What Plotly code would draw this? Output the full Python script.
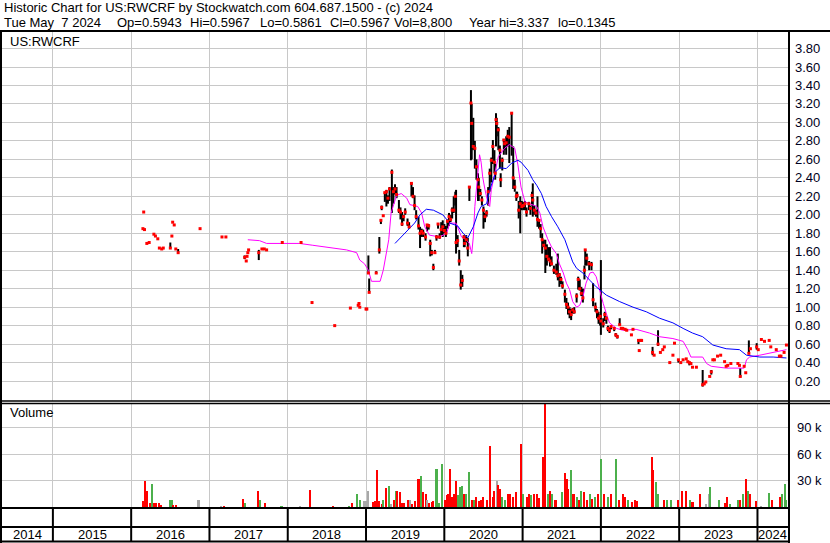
import plotly.graph_objects as go

W, H = 830, 543

# ---------------- price bars (decimal year, high, low, close) ----------------
bar_x = [
    2016.15, 2016.16, 2016.17, 2016.20, 2016.23, 2016.29, 2016.31, 2016.34, 2016.36, 2016.39,
    2016.41, 2016.50, 2016.52, 2016.53, 2016.55, 2016.57, 2016.60, 2016.88,
    2017.16, 2017.21, 2017.45, 2017.47, 2017.48, 2017.49, 2017.50, 2017.63, 2017.67, 2017.70,
    2017.73, 2017.93, 2018.17, 2018.31, 2018.60, 2018.80, 2018.90, 2018.91, 2018.92, 2019.00, 2019.01,
    # 2019
    2019.03, 2019.04, 2019.13, 2019.17, 2019.19, 2019.20, 2019.22, 2019.24, 2019.26, 2019.28,
    2019.30, 2019.33, 2019.35, 2019.37, 2019.39, 2019.42, 2019.44, 2019.46, 2019.48, 2019.50,
    2019.53, 2019.55, 2019.58, 2019.60, 2019.62, 2019.64, 2019.67, 2019.69, 2019.71, 2019.73,
    2019.76, 2019.78, 2019.80, 2019.82, 2019.84, 2019.86, 2019.88, 2019.90, 2019.92, 2019.94,
    2019.96, 2019.98,
    # 2020
    2020.00, 2020.02, 2020.04, 2020.06, 2020.08, 2020.10, 2020.12, 2020.14, 2020.15, 2020.17,
    2020.19, 2020.21, 2020.23, 2020.25, 2020.26, 2020.28, 2020.30, 2020.32, 2020.34, 2020.35,
    2020.37, 2020.39, 2020.41, 2020.43, 2020.44, 2020.46, 2020.48, 2020.50, 2020.52, 2020.54,
    2020.56, 2020.58, 2020.60, 2020.62, 2020.64, 2020.65, 2020.66, 2020.67, 2020.69, 2020.71,
    2020.72, 2020.74, 2020.76, 2020.77, 2020.79, 2020.81, 2020.83, 2020.86, 2020.88, 2020.90,
    2020.92, 2020.93, 2020.95, 2020.97, 2020.99,
    # 2021
    2021.01, 2021.03, 2021.05, 2021.08, 2021.10, 2021.12, 2021.13, 2021.15, 2021.17, 2021.19,
    2021.21, 2021.23, 2021.25, 2021.27, 2021.29, 2021.31, 2021.33, 2021.35, 2021.37, 2021.40,
    2021.43, 2021.45, 2021.47, 2021.49, 2021.51, 2021.54, 2021.56, 2021.58, 2021.60, 2021.62,
    2021.64, 2021.66, 2021.69, 2021.71, 2021.73, 2021.75, 2021.77, 2021.79, 2021.80, 2021.82,
    2021.85, 2021.88, 2021.90, 2021.93, 2021.95, 2021.97, 2021.99,
    # 2022
    2022.00, 2022.03, 2022.05, 2022.07, 2022.09, 2022.11, 2022.13, 2022.17, 2022.19, 2022.21,
    2022.24, 2022.26, 2022.28, 2022.31, 2022.33, 2022.39, 2022.41, 2022.48, 2022.49, 2022.51,
    2022.52, 2022.66, 2022.68, 2022.73, 2022.76, 2022.79, 2022.81, 2022.88, 2022.92, 2022.94,
    2022.99,
    # 2023 - 2024
    2023.02, 2023.05, 2023.09, 2023.11, 2023.13, 2023.15, 2023.17, 2023.22, 2023.30, 2023.32,
    2023.34, 2023.39, 2023.41, 2023.43, 2023.45, 2023.49, 2023.53, 2023.58, 2023.60, 2023.62,
    2023.66, 2023.75, 2023.77, 2023.78, 2023.83, 2023.85, 2023.89, 2023.91, 2023.99, 2024.01,
    2024.05, 2024.09, 2024.15, 2024.17, 2024.24, 2024.28, 2024.30, 2024.34, 2024.37,
]
bar_hi = [
    1.85, 2.03, 1.84, 1.69, 1.70, 1.79, 1.77, 1.74, 1.64, 1.63,
    1.64, 1.70, 1.77, 1.92, 1.89, 1.63, 1.63, 1.85,
    1.76, 1.76, 1.56, 1.50, 1.55, 1.59, 1.62, 1.62, 1.63, 1.63,
    1.62, 1.70, 1.70, 1.05, 0.80, 0.99, 1.02, 1.04, 1.00, 0.98, 0.98,
    1.56, 1.31, 1.39, 1.76, 1.94, 2.10, 1.99, 2.24, 2.27, 2.21,
    2.30, 2.49, 2.30, 2.33, 2.30, 2.16, 2.08, 2.03, 2.00, 2.07,
    1.96, 1.92, 2.34, 2.30, 2.21, 2.05, 1.98, 1.87, 1.85, 1.84,
    1.80, 1.90, 1.90, 1.73, 1.62, 1.47, 1.62, 1.78, 1.91, 1.80,
    1.92, 1.94,
    1.90, 1.88, 1.95, 2.02, 2.00, 2.08, 2.20, 2.25, 2.27, 1.78,
    1.62, 1.40, 1.35, 1.78, 1.76, 1.78, 1.75, 2.30, 3.35, 3.20,
    3.05, 2.80, 2.60, 2.45, 2.40, 2.28, 2.20, 2.09, 2.02, 2.05,
    2.30, 2.50, 2.62, 2.81, 2.70, 2.55, 3.10, 3.05, 2.95, 2.75,
    2.45, 2.62, 2.82, 2.80, 2.85, 2.92, 2.95, 3.10, 2.74, 2.38,
    2.25, 2.25, 2.15, 2.20, 2.15,
    2.14, 2.15, 2.08, 2.14, 2.10, 2.25, 2.34, 2.10, 2.05, 2.20,
    1.95, 1.90, 1.80, 1.73, 1.73, 1.68, 1.65, 1.65, 1.55, 1.45,
    1.47, 1.58, 1.37, 1.33, 1.28, 1.19, 1.10, 1.05, 1.00, 0.98,
    0.99, 1.00, 1.15, 1.33, 1.30, 1.22, 1.20, 1.45, 1.62, 1.58,
    1.50, 1.49, 1.26, 1.05, 0.98, 0.95, 0.92,
    1.51, 0.88, 0.95, 0.90, 0.80, 0.78, 0.80, 0.78, 0.72, 0.70,
    0.88, 0.77, 0.77, 0.76, 0.75, 0.70, 0.76, 0.64, 0.53, 0.64,
    0.64, 0.57, 0.48, 0.75, 0.51, 0.54, 0.57, 0.40, 0.48, 0.61,
    0.43,
    0.40, 0.43, 0.44, 0.41, 0.40, 0.39, 0.35, 0.35, 0.32, 0.17,
    0.19, 0.25, 0.32, 0.43, 0.43, 0.47, 0.48, 0.41, 0.36, 0.37,
    0.39, 0.39, 0.37, 0.34, 0.36, 0.29, 0.64, 0.55, 0.61, 0.54,
    0.65, 0.63, 0.64, 0.57, 0.54, 0.47, 0.47, 0.51, 0.60,
]
bar_lo = [
    1.85, 2.03, 1.84, 1.69, 1.70, 1.79, 1.77, 1.74, 1.64, 1.63,
    1.64, 1.64, 1.77, 1.92, 1.89, 1.63, 1.59, 1.85,
    1.76, 1.76, 1.52, 1.50, 1.55, 1.59, 1.62, 1.51, 1.63, 1.63,
    1.62, 1.70, 1.70, 1.05, 0.80, 0.99, 1.02, 1.04, 1.00, 0.98, 0.98,
    1.36, 1.16, 1.37, 1.58, 1.90, 2.05, 1.99, 2.14, 2.09, 2.12,
    2.15, 2.02, 2.12, 2.22, 2.18, 2.02, 1.95, 1.88, 1.93, 2.00,
    1.88, 1.85, 2.20, 2.18, 2.05, 1.95, 1.84, 1.64, 1.76, 1.76,
    1.72, 1.82, 1.84, 1.55, 1.56, 1.40, 1.58, 1.72, 1.85, 1.74,
    1.78, 1.76,
    1.80, 1.76, 1.85, 1.88, 1.92, 1.96, 2.02, 2.10, 1.58, 1.65,
    1.45, 1.19, 1.22, 1.65, 1.65, 1.70, 1.55, 2.15, 2.59, 2.60,
    2.70, 2.50, 2.38, 2.15, 2.15, 2.20, 2.10, 1.85, 1.92, 1.98,
    2.10, 2.25, 2.35, 2.55, 2.45, 2.38, 2.74, 2.85, 2.70, 2.50,
    2.30, 2.48, 2.65, 2.70, 2.65, 2.74, 2.56, 2.64, 2.28, 2.25,
    2.15, 2.18, 1.96, 1.80, 2.05,
    2.05, 2.05, 1.98, 2.05, 2.00, 2.10, 1.98, 2.00, 1.98, 1.87,
    1.85, 1.75, 1.58, 1.65, 1.37, 1.45, 1.50, 1.44, 1.45, 1.36,
    1.35, 1.29, 1.22, 1.25, 1.20, 1.05, 0.98, 0.92, 0.88, 0.86,
    0.93, 0.93, 1.05, 1.19, 1.18, 1.12, 1.05, 1.30, 1.45, 1.45,
    1.40, 1.40, 1.01, 0.95, 0.88, 0.82, 0.80,
    0.70, 0.78, 0.85, 0.82, 0.74, 0.72, 0.76, 0.74, 0.68, 0.66,
    0.81, 0.77, 0.77, 0.76, 0.75, 0.70, 0.76, 0.60, 0.53, 0.64,
    0.64, 0.48, 0.48, 0.58, 0.51, 0.54, 0.57, 0.40, 0.48, 0.61,
    0.40,
    0.40, 0.43, 0.44, 0.41, 0.37, 0.39, 0.35, 0.35, 0.14, 0.17,
    0.19, 0.25, 0.27, 0.43, 0.43, 0.47, 0.48, 0.41, 0.36, 0.37,
    0.39, 0.39, 0.37, 0.24, 0.36, 0.29, 0.50, 0.55, 0.54, 0.54,
    0.65, 0.63, 0.64, 0.57, 0.54, 0.47, 0.47, 0.51, 0.59,
]
bar_cl = [
    1.85, 2.03, 1.84, 1.69, 1.70, 1.79, 1.77, 1.74, 1.64, 1.63,
    1.64, 1.64, 1.77, 1.92, 1.89, 1.63, 1.59, 1.85,
    1.76, 1.76, 1.54, 1.50, 1.55, 1.59, 1.62, 1.59, 1.63, 1.63,
    1.62, 1.70, 1.70, 1.05, 0.80, 0.99, 1.02, 1.04, 1.00, 0.98, 0.98,
    1.37, 1.16, 1.37, 1.62, 1.94, 2.08, 1.99, 2.24, 2.25, 2.18,
    2.28, 2.46, 2.25, 2.28, 2.22, 2.05, 2.03, 1.90, 1.98, 2.03,
    1.91, 1.87, 2.34, 2.20, 2.10, 1.98, 1.88, 1.80, 1.82, 1.80,
    1.76, 1.89, 1.88, 1.69, 1.59, 1.43, 1.59, 1.76, 1.90, 1.76,
    1.84, 1.87,
    1.83, 1.80, 1.93, 1.98, 1.95, 2.05, 2.05, 2.20, 1.70, 1.72,
    1.50, 1.24, 1.29, 1.76, 1.69, 1.73, 1.64, 2.30, 3.21, 2.99,
    2.74, 2.72, 2.52, 2.38, 2.30, 2.23, 2.16, 2.05, 1.98, 2.02,
    2.25, 2.45, 2.59, 2.74, 2.57, 2.45, 3.03, 2.99, 2.92, 2.70,
    2.38, 2.59, 2.81, 2.77, 2.78, 2.85, 2.84, 3.10, 2.40, 2.30,
    2.20, 2.21, 2.05, 2.12, 2.09,
    2.10, 2.12, 2.03, 2.12, 2.07, 2.21, 2.16, 2.05, 2.02, 1.95,
    1.94, 1.85, 1.73, 1.67, 1.64, 1.55, 1.52, 1.50, 1.47, 1.40,
    1.38, 1.34, 1.35, 1.30, 1.23, 1.14, 1.03, 1.00, 0.95, 0.92,
    0.97, 0.95, 1.12, 1.30, 1.20, 1.15, 1.10, 1.40, 1.62, 1.53,
    1.47, 1.46, 1.08, 1.00, 0.95, 0.88, 0.90,
    0.85, 0.82, 0.92, 0.88, 0.77, 0.75, 0.79, 0.77, 0.70, 0.68,
    0.81, 0.77, 0.77, 0.76, 0.75, 0.70, 0.76, 0.64, 0.53, 0.64,
    0.64, 0.51, 0.48, 0.60, 0.51, 0.54, 0.57, 0.40, 0.48, 0.61,
    0.43,
    0.40, 0.43, 0.44, 0.41, 0.40, 0.39, 0.35, 0.35, 0.16, 0.17,
    0.19, 0.25, 0.30, 0.43, 0.43, 0.47, 0.48, 0.41, 0.36, 0.37,
    0.39, 0.39, 0.37, 0.25, 0.36, 0.29, 0.50, 0.55, 0.57, 0.54,
    0.65, 0.63, 0.64, 0.57, 0.54, 0.47, 0.47, 0.51, 0.59,
]

# ---------------- moving averages ----------------
ma_fast_x = [2017.49, 2017.64, 2017.73, 2018.15, 2018.32, 2018.58, 2018.75, 2018.88, 2018.92, 2018.98,
             2019.03, 2019.07, 2019.18, 2019.22, 2019.26, 2019.29, 2019.32, 2019.39, 2019.45, 2019.52,
             2019.56, 2019.66, 2019.71, 2019.75, 2019.81, 2019.94, 2020.03, 2020.07, 2020.15, 2020.22,
             2020.28, 2020.32, 2020.35, 2020.37, 2020.39, 2020.43, 2020.45, 2020.47, 2020.49, 2020.52,
             2020.56, 2020.58, 2020.60, 2020.64, 2020.69, 2020.77, 2020.83, 2020.90, 2020.94, 2020.98,
             2021.03, 2021.09, 2021.18, 2021.22, 2021.26, 2021.32, 2021.37, 2021.43, 2021.47, 2021.52,
             2021.56, 2021.60, 2021.64, 2021.69, 2021.73, 2021.77, 2021.81, 2021.86, 2021.90, 2021.94,
             2021.98, 2022.03, 2022.07, 2022.11, 2022.20, 2022.28, 2022.45, 2022.62, 2022.75, 2022.92,
             2023.05, 2023.11, 2023.15, 2023.30, 2023.35, 2023.41, 2023.60, 2023.83, 2023.86, 2023.90,
             2024.03, 2024.15, 2024.28, 2024.37]
ma_fast_y = [1.73, 1.72, 1.69, 1.69, 1.67, 1.64, 1.62, 1.59, 1.51, 1.47,
             1.40, 1.28, 1.28, 1.40, 1.58, 1.73, 2.02, 2.21, 2.23, 2.18,
             2.11, 2.09, 2.02, 1.87, 1.78, 1.76, 1.80, 1.91, 1.91, 1.76,
             1.73, 1.69, 1.58, 1.76, 2.09, 2.52, 2.65, 2.57, 2.41, 2.27,
             2.12, 2.09, 2.27, 2.43, 2.63, 2.72, 2.76, 2.72, 2.54, 2.30,
             2.14, 2.12, 2.09, 2.02, 1.87, 1.74, 1.65, 1.58, 1.47, 1.37,
             1.26, 1.19, 1.06, 1.00, 1.02, 1.11, 1.26, 1.37, 1.38, 1.33,
             1.19, 1.04, 0.93, 0.83, 0.77, 0.75, 0.76, 0.72, 0.68, 0.66,
             0.63, 0.54, 0.46, 0.46, 0.39, 0.36, 0.34, 0.34, 0.43, 0.46,
             0.48, 0.50, 0.52, 0.54]
ma_slow_x = [2019.37, 2019.47, 2019.62, 2019.69, 2019.77, 2019.86, 2019.98, 2020.07, 2020.17, 2020.24,
             2020.30, 2020.37, 2020.43, 2020.47, 2020.54, 2020.58, 2020.66, 2020.71, 2020.79, 2020.86,
             2020.94, 2020.98, 2021.07, 2021.13, 2021.18, 2021.24, 2021.30, 2021.37, 2021.45, 2021.54,
             2021.60, 2021.64, 2021.69, 2021.77, 2021.86, 2021.94, 2022.07, 2022.24, 2022.41, 2022.58,
             2022.75, 2022.92, 2023.05, 2023.17, 2023.30, 2023.43, 2023.60, 2023.77, 2023.86, 2024.03,
             2024.20, 2024.37]
ma_slow_y = [1.69, 1.78, 1.91, 2.00, 2.06, 2.05, 2.00, 1.91, 1.88, 1.80,
             1.75, 1.87, 2.02, 2.09, 2.12, 2.27, 2.47, 2.51, 2.50, 2.56,
             2.59, 2.57, 2.48, 2.38, 2.32, 2.23, 2.09, 1.98, 1.87, 1.73,
             1.58, 1.49, 1.42, 1.37, 1.29, 1.22, 1.13, 1.06, 1.00, 0.95,
             0.88, 0.83, 0.77, 0.72, 0.68, 0.59, 0.55, 0.54, 0.48, 0.46,
             0.46, 0.45]

# ---------------- volume (decimal year, shares, colour code) ----------------
vol_x = [
    2016.15, 2016.18, 2016.20, 2016.24, 2016.27, 2016.29, 2016.32, 2016.35, 2016.38, 2016.50,
    2016.52, 2016.54, 2016.57, 2016.86,
    2017.15, 2017.19, 2017.43, 2017.46, 2017.62, 2017.65, 2017.71, 2017.92,
    2018.16, 2018.29, 2018.58, 2018.78, 2018.82, 2018.89, 2018.92, 2018.97, 2019.00, 2019.02, 2019.03,
    2019.09, 2019.12, 2019.14, 2019.17, 2019.20, 2019.22, 2019.26, 2019.29, 2019.32, 2019.36,
    2019.38, 2019.40, 2019.43, 2019.46, 2019.49, 2019.53, 2019.56, 2019.59, 2019.63, 2019.67,
    2019.70, 2019.73, 2019.76, 2019.78, 2019.81, 2019.84, 2019.86, 2019.90, 2019.93, 2019.97,
    2020.01, 2020.03, 2020.05, 2020.07, 2020.10, 2020.12, 2020.15, 2020.17, 2020.20, 2020.23,
    2020.25, 2020.28, 2020.31, 2020.32, 2020.35, 2020.38, 2020.40, 2020.44, 2020.47, 2020.50,
    2020.54, 2020.585, 2020.62, 2020.64, 2020.67, 2020.69, 2020.71, 2020.74, 2020.77, 2020.81,
    2020.84, 2020.88, 2020.91, 2020.98,
    2021.01, 2021.05, 2021.08, 2021.11, 2021.15, 2021.18, 2021.21, 2021.26, 2021.28, 2021.32,
    2021.35, 2021.38, 2021.42, 2021.50, 2021.54, 2021.565, 2021.585, 2021.62, 2021.65, 2021.69,
    2021.72, 2021.75, 2021.79, 2021.82, 2021.86, 2021.89, 2021.92, 2021.96,
    2022.00, 2022.04, 2022.09, 2022.13, 2022.19, 2022.23, 2022.28, 2022.31, 2022.35, 2022.40,
    2022.43, 2022.46, 2022.65, 2022.67, 2022.70, 2022.73, 2022.80, 2022.84, 2022.90, 2022.98,
    2023.04, 2023.09, 2023.14, 2023.17, 2023.27, 2023.34, 2023.375, 2023.395, 2023.51, 2023.58,
    2023.61, 2023.65, 2023.75, 2023.78, 2023.81, 2023.85, 2023.88, 2023.90,
    2023.98, 2024.05, 2024.15, 2024.19, 2024.29, 2024.31, 2024.35, 2024.37,
]
vol_v = [
    7000, 30000, 19000, 5000, 26000, 5000, 5000, 5000, 3000, 9000,
    8000, 3000, 3000, 8000,
    1000, 1000, 10000, 5000, 19000, 9000, 5000, 2000,
    1000, 20000, 2000, 2000, 4500, 15000, 9000, 7000, 7000, 6000, 19000,
    6000, 7000, 42000, 7000, 4000, 8000, 22000, 24000, 4000, 8000,
    19000, 19000, 18000, 5000, 5000, 8000, 9000, 4000, 7000, 32000,
    36000, 17000, 15000, 9000, 5000, 6000, 7000, 44000, 5000, 49000,
    8000, 14000, 15000, 44000, 12000, 15000, 30000, 14000, 23000, 24000,
    15000, 15000, 10000, 40000, 8000, 8000, 12000, 7000, 9000, 12000,
    8000, 70000, 12000, 19000, 30000, 25000, 21000, 12000, 8000, 15000,
    15000, 12000, 17000, 72000,
    15000, 12000, 15000, 14000, 15000, 15000, 11000, 57000, 117000, 15000,
    19000, 15000, 8000, 17000, 39000, 32000, 21000, 42000, 15000, 12000,
    8000, 19000, 17000, 8000, 15000, 10000, 12000, 15000,
    55000, 15000, 12000, 15000, 55000, 8000, 15000, 12000, 8000, 6000,
    8000, 7000, 57000, 42000, 29000, 15000, 8000, 8000, 8000, 8000,
    19000, 19000, 8000, 6000, 15000, 4000, 15000, 23000, 8000, 5000,
    12000, 4000, 8000, 8000, 15000, 32000, 19000, 15000,
    7000, 2000, 16000, 8000, 12000, 15000, 27000, 9000,
]
vol_c = [
    "r", "r", "r", "r", "g", "r", "r", "r", "r", "g",
    "g", "r", "r", "n",
    "n", "r", "r", "g", "r", "g", "r", "g",
    "n", "r", "r", "g", "r", "g", "g", "n", "n", "g", "n",
    "r", "r", "r", "r", "r", "g", "r", "g", "n", "r",
    "g", "r", "r", "r", "r", "r", "n", "r", "r", "r",
    "g", "r", "r", "n", "r", "r", "r", "g", "g", "g",
    "r", "r", "r", "r", "r", "r", "r", "g", "g", "g",
    "r", "g", "r", "g", "r", "g", "r", "r", "r", "r",
    "r", "r", "r", "r", "n", "r", "r", "g", "g", "r",
    "r", "r", "r", "r",
    "g", "r", "r", "g", "r", "r", "r", "r", "r", "g",
    "r", "g", "r", "g", "r", "r", "r", "g", "r", "g",
    "r", "g", "r", "r", "g", "r", "g", "r",
    "g", "r", "g", "r", "g", "r", "r", "r", "g", "r",
    "r", "r", "r", "r", "g", "g", "r", "g", "g", "r",
    "r", "r", "g", "r", "r", "n", "n", "g", "g", "r",
    "r", "g", "g", "r", "g", "r", "g", "r",
    "r", "n", "g", "r", "r", "g", "g", "g",
]

# ---------------- axis labels and texts ----------------
price_ticks = [0.2, 0.4, 0.6, 0.8, 1.0, 1.2, 1.4, 1.6, 1.8, 2.0,
               2.2, 2.4, 2.6, 2.8, 3.0, 3.2, 3.4, 3.6, 3.8]
vol_ticks = [30000, 60000, 90000]
vol_tick_text = ["30 k", "60 k", "90 k"]
years = [2014, 2015, 2016, 2017, 2018, 2019, 2020, 2021, 2022, 2023, 2024]
x_start, x_end = 2014.35, 2024.39

header1 = "Historic Chart for US:RWCRF by Stockwatch.com 604.687.1500 - (c) 2024"
header2_fields = ["Tue May  7 2024", "Op=0.5943", "Hi=0.5967", "Lo=0.5861", "Cl=0.5967",
                  "Vol=8,800", "Year hi=3.337", "lo=0.1345"]
header2_px = [2, 115, 188, 258, 328, 392, 467, 556]
symbol_label = "US:RWCRF"
volume_label = "Volume"

# ---------------- styles ----------------
FONT = "Liberation Sans, Arial, sans-serif"
HSIZE = 13
GRID = "#c8c8c8"
COLMAP = {"r": "#ff0000", "g": "#4cb04c", "n": "#a8a8a8"}


def py(p):
    return 1 - p / H


def px(p):
    return p / W


fig = go.Figure()

# high-low bars
lx, ly = [], []
for x, h, l in zip(bar_x, bar_hi, bar_lo):
    if h > l:
        lx += [x, x, None]
        ly += [l, h, None]
fig.add_trace(go.Scatter(x=lx, y=ly, mode="lines", line=dict(color="black", width=2),
                         xaxis="x", yaxis="y", hoverinfo="skip", showlegend=False))
# moving averages
fig.add_trace(go.Scatter(x=ma_fast_x, y=ma_fast_y, mode="lines",
                         line=dict(color="#ff00ff", width=1), xaxis="x", yaxis="y",
                         hoverinfo="skip", showlegend=False))
fig.add_trace(go.Scatter(x=ma_slow_x, y=ma_slow_y, mode="lines",
                         line=dict(color="#0000ff", width=1), xaxis="x", yaxis="y",
                         hoverinfo="skip", showlegend=False))
# closes
fig.add_trace(go.Scatter(x=bar_x, y=bar_cl, mode="markers",
                         marker=dict(symbol="square", size=3, color="#ff0000", line=dict(width=0)),
                         xaxis="x", yaxis="y", hoverinfo="skip", showlegend=False))
# volume
fig.add_trace(go.Bar(x=vol_x, y=vol_v, width=0.026,
                     marker=dict(color=[COLMAP[c] for c in vol_c], line=dict(width=0)),
                     xaxis="x2", yaxis="y2", hoverinfo="skip", showlegend=False))

xdom = [px(2), px(788)]
xcommon = dict(domain=xdom, range=[x_start, x_end], tickvals=years[1:], showticklabels=False,
               showgrid=True, gridcolor=GRID, gridwidth=1, zeroline=False, showline=False,
               ticks="", fixedrange=True, automargin=False)

fig.update_layout(
    width=W, height=H, margin=dict(l=0, r=0, t=0, b=0, autoexpand=False),
    paper_bgcolor="white", plot_bgcolor="white",
    font=dict(family=FONT, size=13, color="black"),
    bargap=0,
    xaxis=dict(anchor="y", **xcommon),
    xaxis2=dict(anchor="y2", matches="x", **xcommon),
    yaxis=dict(domain=[py(401), py(31)], range=[-0.016, 3.99], side="right", anchor="x",
               tickvals=price_ticks, showticklabels=False, automargin=False,
               showgrid=True, gridcolor=GRID, zeroline=False, ticks="", showline=False,
               fixedrange=True),
    yaxis2=dict(domain=[py(508), py(403)], range=[-600, 118000], side="right", anchor="x2",
                tickvals=vol_ticks, showticklabels=False, automargin=False,
                showgrid=True, gridcolor=GRID, zeroline=False, ticks="", showline=False,
                fixedrange=True),
)

shapes = []


def hline(y, x0, x1, w):
    shapes.append(dict(type="line", xref="paper", yref="paper", x0=px(x0), x1=px(x1),
                       y0=py(y), y1=py(y), line=dict(color="black", width=w)))


def vline(x, y0, y1, w):
    shapes.append(dict(type="line", xref="paper", yref="paper", x0=px(x), x1=px(x),
                       y0=py(y0), y1=py(y1), line=dict(color="black", width=w)))


hline(31, 0, 830, 2)
hline(401, 0, 830, 1.5)
hline(403.5, 0, 830, 1.5)
hline(508, 0, 789, 2)
hline(527, 0, 789, 2)
hline(541.5, 0, 789, 2)
vline(1, 30, 543, 2)
vline(789, 30, 543, 2)
for yr in years[1:]:
    shapes.append(dict(type="line", xref="x", yref="paper", x0=yr, x1=yr,
                       y0=py(541.5), y1=py(508), line=dict(color="black", width=2)))
fig.update_layout(shapes=shapes)

ann = []
ann.append(dict(text=header1, x=px(2), y=py(8), xref="paper", yref="paper",
                xanchor="left", yanchor="middle", showarrow=False,
                font=dict(size=HSIZE)))
for t, xp in zip(header2_fields, header2_px):
    ann.append(dict(text=t.replace("  ", "\u00a0\u00a0"), x=px(xp), y=py(22), xref="paper",
                    yref="paper", xanchor="left", yanchor="middle", showarrow=False,
                    font=dict(size=HSIZE)))
ann.append(dict(text=symbol_label, x=px(8), y=py(41.5), xref="paper", yref="paper",
                xanchor="left", yanchor="middle", showarrow=False, font=dict(size=13)))
ann.append(dict(text=volume_label, x=px(8), y=py(413), xref="paper", yref="paper",
                xanchor="left", yanchor="middle", showarrow=False, font=dict(size=13)))
for yr in years:
    lo = max(yr, x_start)
    hi = min(yr + 1, x_end)
    ann.append(dict(text=str(yr), x=(lo + hi) / 2, y=py(534.5), xref="x", yref="paper",
                    xanchor="center", yanchor="middle", showarrow=False, font=dict(size=13)))
for v in price_ticks:
    ann.append(dict(text="%.2f" % v, x=px(793), y=v, xref="paper", yref="y",
                    xanchor="left", yanchor="middle", showarrow=False,
                    font=dict(size=13, color="#000020")))
for v, t in zip(vol_ticks, vol_tick_text):
    ann.append(dict(text=t, x=px(795), y=v, xref="paper", yref="y2",
                    xanchor="left", yanchor="middle", showarrow=False,
                    font=dict(size=13, color="#000020")))
fig.update_layout(annotations=ann)

fig.write_html("out.html", config={"displayModeBar": False},
               post_script="document.body.style.margin='0';document.body.style.padding='0';"
                           "document.body.style.overflow='hidden';")
